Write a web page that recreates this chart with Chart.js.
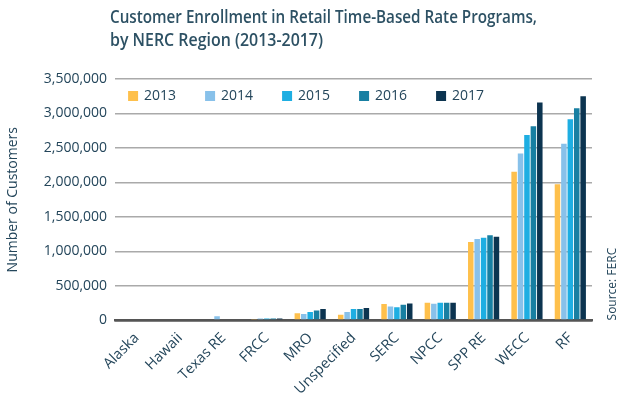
<!DOCTYPE html>
<html>
<head>
<meta charset="utf-8">
<script src="https://cdn.jsdelivr.net/npm/chart.js@4"></script>
<style>
  html, body { margin: 0; padding: 0; background: #fff; }
  #wrap { width: 625px; height: 400px; }
</style>
</head>
<body>
<div id="wrap"><canvas id="myChart" width="625" height="400"></canvas></div>
<script>
// Régions NERC (catégories)
const regions = ['Alaska', 'Hawaii', 'Texas RE', 'FRCC', 'MRO', 'Unspecified', 'SERC', 'NPCC', 'SPP RE', 'WECC', 'RF'];

// Clients inscrits par année, dans l'ordre des régions
const years = ['2013', '2014', '2015', '2016', '2017'];
const values2013 = [0, 0, 0, 20000, 106000, 82000, 237000, 256000, 1136000, 2157000, 1974000];
const values2014 = [0, 0, 60000, 28000, 92000, 121000, 203000, 242000, 1180000, 2420000, 2560000];
const values2015 = [0, 0, 0, 28000, 121000, 165000, 193000, 256000, 1200000, 2690000, 2917000];
const values2016 = [0, 0, 0, 28000, 145000, 165000, 227000, 258000, 1234000, 2815000, 3077000];
const values2017 = [0, 0, 0, 28000, 165000, 179000, 247000, 258000, 1213000, 3160000, 3250000];

const yTicks = [0, 500000, 1000000, 1500000, 2000000, 2500000, 3000000, 3500000];

const colors = ['#fec04c', '#88c1ea', '#1eaee2', '#187fa2', '#0c3450'];
const textColor = '#24465b';
const fontFamily = '"Open Sans", sans-serif';

const allValues = [values2013, values2014, values2015, values2016, values2017];

// Titre, légende maison et source dessinés après le graphique
const decorPlugin = {
    id: 'decor',
    afterDraw(chart) {
        const { ctx, chartArea } = chart;
        ctx.save();

        // Titre sur deux lignes
        ctx.fillStyle = '#2d5164';
        ctx.font = '600 17.5px ' + fontFamily;
        ctx.textAlign = 'left';
        ctx.textBaseline = 'middle';
        ctx.fillText('Customer Enrollment in Retail Time-Based Rate Programs,', 110, 18, 427);
        ctx.fillText('by NERC Region (2013-2017)', 110, 41, 213);

        // Légende dans la zone du graphique
        ctx.font = '14px ' + fontFamily;
        let x = chartArea.left + 13;
        const y = chartArea.top + 17;
        chart.data.datasets.forEach(ds => {
            ctx.fillStyle = ds.backgroundColor;
            ctx.fillRect(x, y - 5, 10, 10);
            ctx.fillStyle = textColor;
            ctx.fillText(ds.label, x + 16, y);
            x += 77;
        });

        // Source verticale
        ctx.translate(chartArea.right + 21, chartArea.bottom);
        ctx.rotate(-Math.PI / 2);
        ctx.font = '12px ' + fontFamily;
        ctx.fillStyle = textColor;
        ctx.textAlign = 'left';
        ctx.fillText('Source: FERC', 0, 0);
        ctx.restore();
    }
};

const ctx = document.getElementById('myChart');

new Chart(ctx, {
    type: 'bar',
    data: {
        labels: regions,
        datasets: years.map((yr, i) => ({
            label: yr,
            data: allValues[i],
            backgroundColor: colors[i],
            barPercentage: 0.86,
            categoryPercentage: 0.74
        }))
    },
    options: {
        responsive: false,
        animation: false,
        devicePixelRatio: 1,
        layout: { padding: { top: 79, right: 33, bottom: 1, left: 5 } },
        plugins: {
            legend: { display: false },
            tooltip: { enabled: false }
        },
        scales: {
            x: {
                grid: { display: false },
                border: { display: true, color: '#555', width: 2.5 },
                ticks: {
                    color: textColor,
                    font: { family: fontFamily, size: 14.5 },
                    maxRotation: 45,
                    minRotation: 45,
                    padding: 1
                }
            },
            y: {
                min: 0,
                max: 3500000,
                afterBuildTicks: axis => { axis.ticks = yTicks.map(v => ({ value: v })); },
                grid: {
                    color: c => c.tick && c.tick.value === 0 ? '#555' : '#aaaaaa',
                    lineWidth: c => c.tick && c.tick.value === 0 ? 2.5 : 1.5,
                    drawTicks: false
                },
                border: { display: false },
                ticks: {
                    color: textColor,
                    font: { family: fontFamily, size: 14 },
                    padding: 8,
                    callback: v => v.toLocaleString('en-US')
                },
                title: {
                    display: true,
                    text: 'Number of Customers',
                    color: textColor,
                    font: { family: fontFamily, size: 14 },
                    padding: { top: 0, bottom: 14 }
                }
            }
        }
    },
    plugins: [decorPlugin]
});
</script>
</body>
</html>
